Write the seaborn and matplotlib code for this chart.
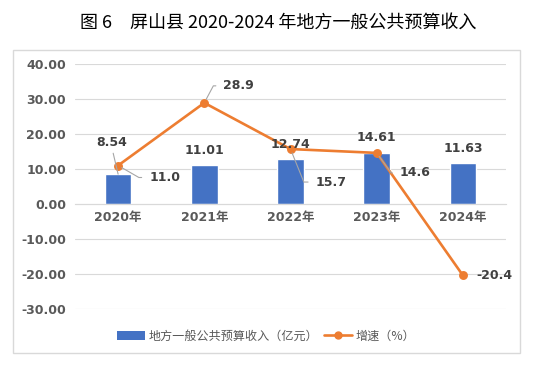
import matplotlib
matplotlib.use("Agg")
import matplotlib.pyplot as plt
import seaborn as sns
import pandas as pd
from matplotlib.patches import Patch
from matplotlib.lines import Line2D

sns.set_theme(style="white")
plt.rcParams["font.family"] = ["DejaVu Sans", "Noto Sans CJK SC"]

# ---------- data ----------
years = ["2020年", "2021年", "2022年", "2023年", "2024年"]
revenue = [8.54, 11.01, 12.74, 14.61, 11.63]      # 亿元
growth = [11.0, 28.9, 15.7, 14.6, -20.4]          # %
y_ticks = [40, 30, 20, 10, 0, -10, -20, -30]

bar_label = "地方一般公共预算收入（亿元）"
line_label = "增速（%）"
title = "图 6　屏山县 2020-2024 年地方一般公共预算收入"

BLUE = "#4472C4"
ORANGE = "#ED7D31"
LABEL_C = "#404040"
TICK_C = "#595959"
LEADER_C = "#a6a6a6"

df = pd.DataFrame({"year": years, "revenue": revenue, "growth": growth})

W, H = 535, 372
fig = plt.figure(figsize=(W / 100, H / 100), dpi=100)
ax = fig.add_axes([75 / W, (H - 309) / H, 431 / W, 245 / H])

sns.barplot(data=df, x="year", y="revenue", color=BLUE, width=0.31,
            saturation=1, ax=ax, zorder=2)
sns.pointplot(data=df, x="year", y="growth", color=ORANGE, markers="o",
              linestyles="-", errorbar=None, markersize=5, linewidth=1.9,
              ax=ax, zorder=3)

ax.set_xlim(-0.5, 4.5)
ax.set_ylim(-30, 40)
ax.set_yticks(y_ticks)
ax.set_yticklabels([f"{v:.2f}" for v in y_ticks])
ax.yaxis.grid(True, color="#d9d9d9", linewidth=0.8)
ax.set_axisbelow(True)
for s in ["top", "right", "left"]:
    ax.spines[s].set_visible(False)
ax.spines["bottom"].set_position(("data", 0))
ax.spines["bottom"].set_color("#d9d9d9")
ax.spines["bottom"].set_linewidth(0.8)
ax.set_xlabel("")
ax.set_ylabel("")
ax.tick_params(axis="y", length=0, pad=6.5, labelsize=9, labelcolor=TICK_C)
ax.tick_params(axis="x", length=0, pad=5, labelsize=9, labelcolor=TICK_C)
for t in ax.get_xticklabels() + ax.get_yticklabels():
    t.set_fontweight("bold")

lab_kw = dict(fontsize=9, fontweight="bold", color=LABEL_C,
              textcoords="offset pixels")

# bar value labels
for i, v in enumerate(revenue):
    if i == 0:
        ax.annotate(f"{v:.2f}", xy=(i, v), xytext=(-6, 32), ha="center",
                    va="center",
                    arrowprops=dict(arrowstyle="-", color=LEADER_C, lw=0.8,
                                    relpos=(0.5, 0), shrinkA=1, shrinkB=0),
                    **lab_kw)
    else:
        ax.annotate(f"{v:.2f}", xy=(i, v), xytext=(0, 15), ha="center",
                    va="center", **lab_kw)

# growth labels with leader lines (offset x, offset y, leader angle)
growth_offsets = [(31, -12, -30), (19, 17, 62), (25, -33, -68),
                  (23, -20, -54), (13, 0, None)]
for i, (v, (dx, dy, ang)) in enumerate(zip(growth, growth_offsets)):
    if ang is None:
        ax.annotate(f"{v:.1f}", xy=(i, v), xytext=(dx, dy), ha="left",
                    va="center", **lab_kw)
    else:
        ax.annotate(f"{v:.1f}", xy=(i, v), xytext=(dx, dy), ha="left",
                    va="center",
                    arrowprops=dict(arrowstyle="-", color=LEADER_C, lw=0.8,
                                    relpos=(0, 0.5), shrinkA=3, shrinkB=3,
                                    connectionstyle=f"angle,angleA=0,angleB={ang},rad=0"),
                    **lab_kw)

# legend
handles = [Patch(facecolor=BLUE, edgecolor="none"),
           Line2D([], [], color=ORANGE, marker="o", markersize=5, linewidth=1.9)]
leg = fig.legend(handles, [bar_label, line_label], loc="center",
                 bbox_to_anchor=(266 / W, 1 - 336 / H), ncol=2, frameon=False,
                 handlelength=2.3, handleheight=0.7, handletextpad=0.3,
                 columnspacing=0.5,
                 prop={"family": "Noto Sans CJK SC", "size": 8.7})
for t in leg.get_texts():
    t.set_color(TICK_C)

# chart frame and title
fig.patches.append(plt.Rectangle((13 / W, 1 - 353 / H), 507 / W, 303 / H,
                                 transform=fig.transFigure, fill=False,
                                 edgecolor="#d9d9d9", linewidth=1))
fig.text(278 / W, 1 - 23 / H, title, ha="center", va="center", fontsize=13,
         fontweight="medium", family=["Noto Sans CJK SC", "DejaVu Sans"],
         color="black")

fig.savefig("out.png", dpi=100)
